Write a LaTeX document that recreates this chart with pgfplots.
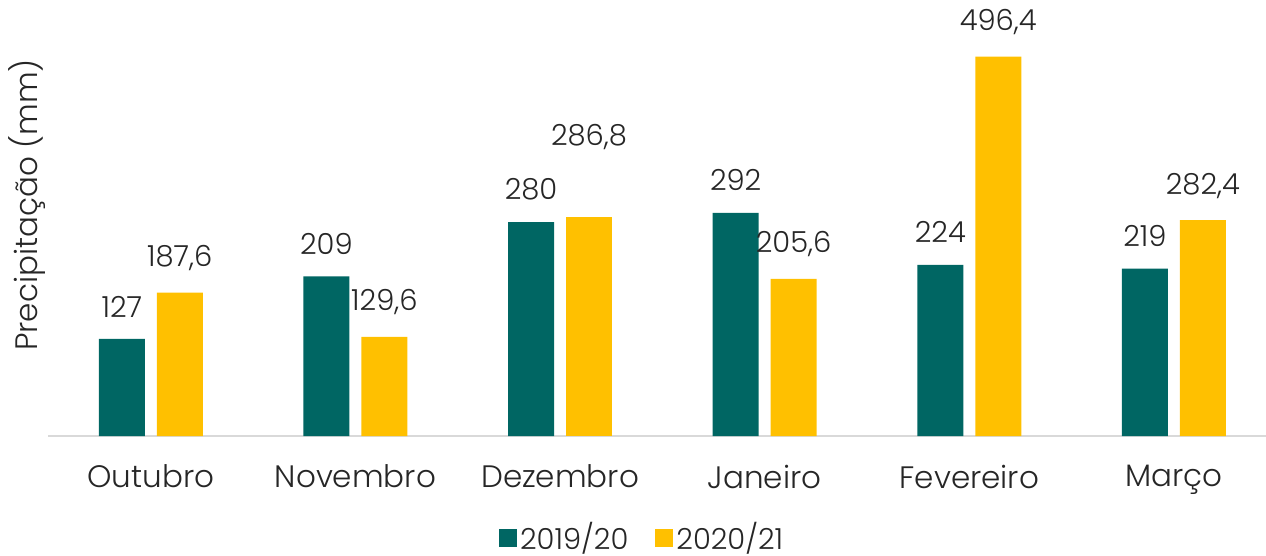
\documentclass[border=0pt]{standalone}
\usepackage{pgfplots}
\pgfplotsset{compat=1.18}
\usepackage{fontspec}
\setmainfont{Poppins}[UprightFont=* Light]
\definecolor{cteal}{RGB}{0,102,99}
\definecolor{cyel}{RGB}{255,192,0}
\definecolor{caxis}{RGB}{217,217,217}
\newcommand{\ff}{\fontsize{29}{34}\selectfont}
\newcommand{\fl}{\fontsize{31}{36}\selectfont}
\begin{document}
\ff
\begin{tikzpicture}
\useasboundingbox (-48.5pt,-119pt) rectangle (1217.5pt,436pt);
\begin{axis}[
  at={(0,0)}, anchor=south west,
  scale only axis, width=1217.5pt, height=428pt,
  xmin=-0.5, xmax=5.45, ymin=0, ymax=560,
  axis lines*=left,
  y axis line style={draw=none},
  ytick=\empty,
  x axis line style={caxis, line width=2pt, -},
  xtick={0,1,2,3,4,5},
  xticklabels={Outubro,Novembro,Dezembro,Janeiro,Fevereiro,Março},
  major tick length=0pt,
  xticklabel style={font=\fl, text=black!85, yshift=-19pt},
  ybar, bar width=46pt,
  nodes near coords,
  nodes near coords style={font=\ff, text=black!85, anchor=south, yshift=12pt},
  /pgf/number format/.cd, use comma, 1000 sep={}, assume math mode=true, /pgfplots/.cd,
  ylabel={Precipitação (mm)},
  ylabel style={font=\fl, text=black!85, at={(axis description cs:-0.0175,0.54)}, anchor=center},
  legend columns=2,
  legend style={draw=none, fill=none, at={(axis description cs:0.488,-0.238)}, anchor=center,
    font=\ff, text=black!85, inner sep=0pt,
    /tikz/every even column/.append style={column sep=24pt},
    nodes={inner xsep=3pt}},
  legend image code/.code={\fill[#1] (2pt,-9pt) rectangle (20pt,9pt);},
]
\addplot[fill=cteal, draw=none, bar shift=-29pt] coordinates {(0,127) (1,209) (2,280) (3,292) (4,224) (5,219)};
\addplot[fill=cyel, draw=none, bar shift=29pt] coordinates {(0,187.6) (1,129.6) (3,205.6) (4,496.4) (5,282.4)};
\addplot[fill=cyel, draw=none, bar shift=29pt, forget plot,
  nodes near coords style={yshift=45pt}] coordinates {(2,286.8)};
\legend{2019/20, 2020/21}
\end{axis}
\end{tikzpicture}
\end{document}
